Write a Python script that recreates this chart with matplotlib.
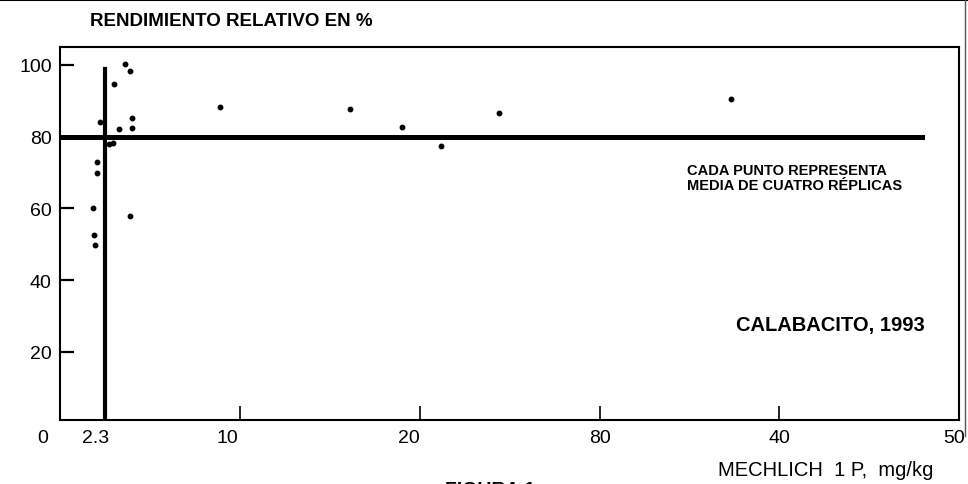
"""Rendimiento relativo vs. fosforo Mehlich 1 (Calabacito, 1993)."""

import matplotlib.pyplot as plt
from matplotlib.lines import Line2D

plt.rcParams["font.family"] = ["Liberation Sans", "DejaVu Sans"]

# Mehlich 1 P (mg/kg) and relative yield (%) of each plotted point
phosphorus = [2.2, 3.3, 4.0, 4.0, 2.7, 2.95, 2.05, 2.05, 1.85, 3.9, 1.9, 1.95,
              3.6, 3.9, 3.0, 8.9, 16.1, 19.0, 21.2, 24.4, 37.3]
rel_yield = [84.1, 82.0, 85.2, 82.5, 78.0, 78.3, 73.0, 70.0, 60.0, 58.0, 52.5, 49.7,
             100.3, 98.4, 94.8, 88.3, 87.7, 82.8, 77.5, 86.6, 90.6]

critical_p = 2.5
critical_yield = 80
yield_ticks = [20, 40, 60, 80, 100]
p_ticks = [10, 20, 30, 40]
# tick labels as printed on the original (note "80" for 30)
p_label_pos = [-0.95, 1.95, 9.3, 19.4, 30.0, 40.0, 49.7]
p_labels = ["0", "2.3", "10", "20", "80", "40", "50"]

fig = plt.figure(figsize=(9.68, 4.85), dpi=100)
ax = fig.add_axes([0.062, 0.132, 0.929, 0.769])

ax.plot(phosphorus, rel_yield, "o", color="black", markersize=3.2, zorder=3)
ax.axhline(critical_yield, xmin=0, xmax=47.9 / 50, color="black", lw=3.6, zorder=2)
ax.plot([critical_p, critical_p], [1, 99], color="black", lw=3.0, zorder=2)

ax.set_xlim(0, 50)
ax.set_ylim(1, 105)
ax.set_xticks(p_ticks)
ax.set_xticklabels([])
ax.set_yticks(yield_ticks)
ax.set_yticklabels([str(v) for v in yield_ticks], fontsize=14)
ax.tick_params(axis="y", direction="in", length=10, width=1.6, pad=6)
ax.tick_params(axis="x", direction="in", length=10, width=1.2)
for spine in ax.spines.values():
    spine.set_linewidth(1.5)

for pos, lab in zip(p_label_pos, p_labels):
    ax.text(pos, -0.025, lab, transform=ax.get_xaxis_transform(),
            ha="center", va="top", fontsize=14)

fig.text(0.093, 0.955, "RENDIMIENTO RELATIVO EN %", fontsize=13.5,
         fontweight="bold", va="center")
fig.text(0.742, 0.030, "MECHLICH  1 P,  mg/kg", fontsize=14.5, va="center")
fig.text(0.46, -0.012, "FIGURA 1", fontsize=14, fontweight="bold", va="center")

ax.text(0.697, 0.69, "CADA PUNTO REPRESENTA\nMEDIA DE CUATRO RÉPLICAS",
        transform=ax.transAxes, fontsize=10.5, fontweight="bold",
        va="top", linespacing=1.15)
ax.text(0.962, 0.257, "CALABACITO, 1993", transform=ax.transAxes,
        fontsize=14.5, fontweight="bold", ha="right", va="center")

# scanned page border
fig.add_artist(Line2D([0, 1], [0.997, 0.997], color="black", lw=1.5))
fig.add_artist(Line2D([0.997, 0.997], [0.1, 1], color="#555555", lw=1.0))

fig.savefig("out.png", dpi=100)
